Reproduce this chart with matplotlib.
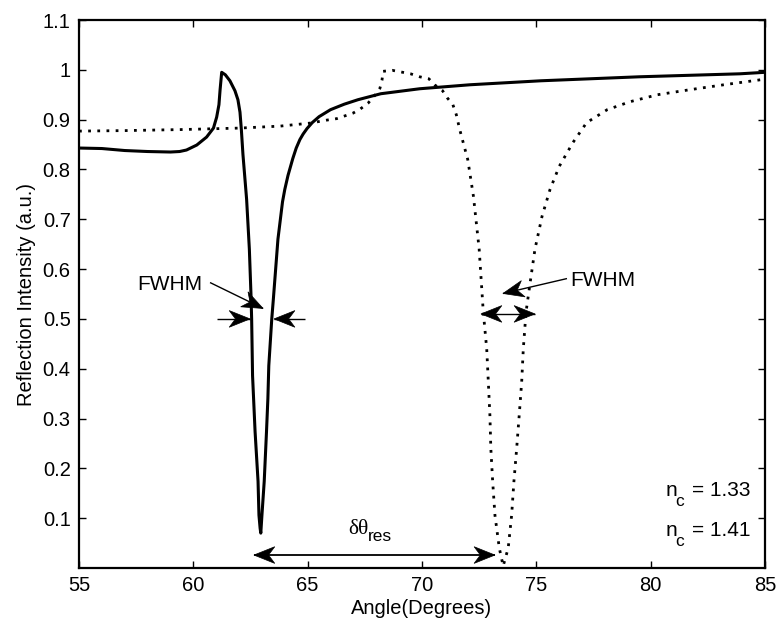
import numpy as np
import matplotlib
matplotlib.use("Agg")
import matplotlib.pyplot as plt
from matplotlib.patches import Polygon
from matplotlib.transforms import Affine2D, ScaledTranslation

plt.rcParams['font.family'] = ['Liberation Sans', 'DejaVu Sans']

# Reflectivity curves for two cover-medium indices
angle_n133 = [55.0, 56.0, 57.0, 58.0, 59.0, 59.4, 59.7, 60.15, 60.58, 60.88, 61.02,
              61.12, 61.17, 61.24, 61.4, 61.6, 61.82, 61.95, 62.04, 62.1, 62.17,
              62.25, 62.33, 62.45, 62.52, 62.55, 62.59, 62.7, 62.83, 62.87, 62.92,
              62.95, 63.0, 63.1, 63.2, 63.26, 63.3, 63.43, 63.5, 63.6, 63.7, 63.9,
              64.0, 64.14, 64.35, 64.5, 64.66, 64.8, 64.97, 65.2, 65.5, 66.0, 66.6,
              67.2, 68.2, 69.9, 71.0, 72.1, 75.2, 79.5, 83.9, 85.0]
refl_n133 = [0.843, 0.842, 0.838, 0.836, 0.835, 0.836, 0.839, 0.849, 0.865, 0.883, 0.905,
             0.93, 0.96, 0.995, 0.99, 0.978, 0.958, 0.94, 0.915, 0.88, 0.83,
             0.785, 0.74, 0.64, 0.55, 0.50, 0.386, 0.274, 0.174, 0.106, 0.08,
             0.07, 0.106, 0.174, 0.274, 0.34, 0.406, 0.50, 0.54, 0.60, 0.66, 0.735,
             0.760, 0.788, 0.822, 0.843, 0.86, 0.871, 0.882, 0.894, 0.906, 0.92, 0.931,
             0.94, 0.952, 0.962, 0.966, 0.970, 0.978, 0.986, 0.992, 0.995]

angle_n141 = [55.0, 57.0, 59.4, 62.0, 63.8, 65.1, 65.83, 66.27, 66.98, 67.29, 67.64,
              68.0, 68.16, 68.25, 68.3, 68.7, 69.5, 69.9, 70.3, 70.55, 70.9, 71.1,
              71.35, 71.5, 71.65, 72.0, 72.25, 72.5, 72.68, 72.83, 72.9, 72.97,
              73.01, 73.09, 73.19, 73.38, 73.55, 73.77, 73.92, 74.02, 74.14, 74.25,
              74.36, 74.43, 74.55, 74.72, 74.94, 75.25, 75.6, 76.0, 76.6, 77.2,
              78.1, 79.1, 80.3, 81.7, 83.2, 84.8, 85.0]
refl_n141 = [0.877, 0.878, 0.880, 0.883, 0.887, 0.893, 0.899, 0.902, 0.913, 0.921, 0.933,
             0.952, 0.963, 0.979, 0.997, 0.999, 0.992, 0.986, 0.982, 0.970, 0.958, 0.944,
             0.930, 0.910, 0.880, 0.820, 0.746, 0.64, 0.514, 0.44, 0.374, 0.306,
             0.24, 0.174, 0.106, 0.04, 0.004, 0.04, 0.106, 0.174, 0.24, 0.306,
             0.374, 0.44, 0.514, 0.57, 0.64, 0.706, 0.76, 0.806, 0.854, 0.894,
             0.92, 0.936, 0.95, 0.96, 0.97, 0.98, 0.982]

x_ticks = [55, 60, 65, 70, 75, 80, 85]
y_ticks = [0.1, 0.2, 0.3, 0.4, 0.5, 0.6, 0.7, 0.8, 0.9, 1.0, 1.1]
y_tick_labels = ['0.1', '0.2', '0.3', '0.4', '0.5', '0.6', '0.7', '0.8', '0.9', '1', '1.1']

fig = plt.figure(figsize=(7.77, 6.24), dpi=100)
ax = fig.add_axes([79 / 777, 1 - 568 / 624, (765 - 79) / 777, (568 - 20) / 624])

ax.plot(angle_n133, refl_n133, color='black', lw=2.2, solid_joinstyle='round')
ax.plot(angle_n141, refl_n141, color='black', lw=2.0, linestyle=(0, (1.0, 2.3)),
        dash_capstyle='butt')

ax.set_xlim(55, 85)
ax.set_ylim(0, 1.1)
ax.set_xticks(x_ticks)
ax.set_xticklabels([str(t) for t in x_ticks])
ax.set_yticks(y_ticks)
ax.set_yticklabels(y_tick_labels)
ax.tick_params(direction='in', length=5, width=1.0, top=True, right=True,
               labelsize=14.5, pad=6)
for s in ax.spines.values():
    s.set_linewidth(1.6)
ax.set_xlabel('Angle(Degrees)', fontsize=14.5, labelpad=3)
ax.set_ylabel('Reflection Intensity (a.u.)', fontsize=14.5, labelpad=5)


def head(tail, tip, L=15.0, W=12.0, notch=0.7):
    p0 = ax.transData.transform(tail)
    p1 = ax.transData.transform(tip)
    theta = np.arctan2(p1[1] - p0[1], p1[0] - p0[0])
    verts = np.array([[0, 0], [-L, W / 2], [-notch * L, 0], [-L, -W / 2]]) / 72.0
    trans = (Affine2D().rotate(theta) + fig.dpi_scale_trans
             + ScaledTranslation(tip[0], tip[1], ax.transData))
    ax.add_patch(Polygon(verts, closed=True, transform=trans, facecolor='black',
                         edgecolor='black', lw=0.5, clip_on=False, zorder=5))


def arrow(tail, tip, lw=1.0):
    ax.plot([tail[0], tip[0]], [tail[1], tip[1]], color='black', lw=lw,
            solid_capstyle='butt', clip_on=False, zorder=5)
    head(tail, tip)


def double_arrow(a, b, lw=1.0):
    ax.plot([a[0], b[0]], [a[1], b[1]], color='black', lw=lw,
            solid_capstyle='butt', clip_on=False, zorder=5)
    head(b, a)
    head(a, b)


# FWHM of the n_c = 1.33 resonance
ax.text(57.54, 0.569, 'FWHM', fontsize=15, ha='left', va='center')
arrow((60.73, 0.573), (63.05, 0.521))
arrow((61.03, 0.50), (62.48, 0.50))
arrow((64.88, 0.50), (63.53, 0.50))

# FWHM of the n_c = 1.41 resonance
ax.text(76.47, 0.578, 'FWHM', fontsize=15, ha='left', va='center')
arrow((76.34, 0.581), (73.54, 0.551))
double_arrow((72.58, 0.510), (74.94, 0.510))

# Resonance shift
double_arrow((62.65, 0.026), (73.19, 0.026), lw=1.3)
ax.text(67.64, 0.068, 'δθ', fontsize=15.5, family=['Liberation Serif', 'DejaVu Serif'],
        ha='right', va='baseline')
ax.text(67.64, 0.054, 'res', fontsize=12.5, ha='left', va='baseline')

# Cover index labels
for base, val in [(0.144, '= 1.33'), (0.064, '= 1.41')]:
    ax.text(80.63, base, 'n', fontsize=15, ha='left', va='baseline')
    ax.text(81.08, base - 0.02, 'c', fontsize=12.5, ha='left', va='baseline')
    ax.text(81.80, base, val, fontsize=15, ha='left', va='baseline')

fig.savefig('out.png', dpi=100)
